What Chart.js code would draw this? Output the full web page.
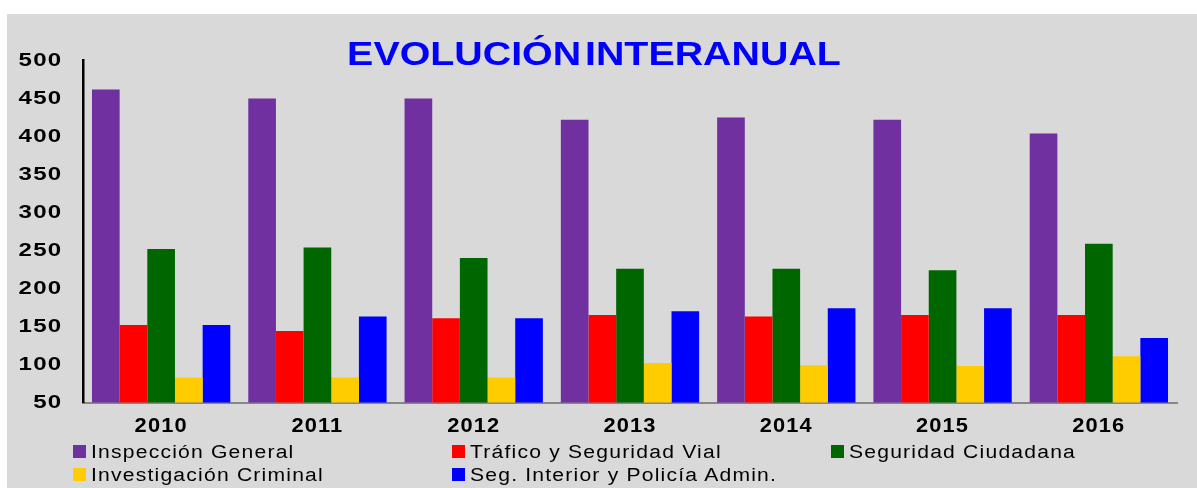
<!DOCTYPE html>
<html>
<head>
<meta charset="utf-8">
<script src="https://cdn.jsdelivr.net/npm/chart.js@4/dist/chart.umd.min.js"></script>
<style>
  html, body { margin: 0; padding: 0; background: #ffffff; }
  #wrap { position: relative; width: 1197px; height: 488px; overflow: hidden; font-family: 'Liberation Sans', Arial, sans-serif; }
  #bg { position: absolute; left: 7px; top: 14px; right: 0; bottom: 0; background: #d9d9d9; }
  #chart { position: absolute; left: 0; top: 0; }
  #title { position: absolute; left: 0; top: 37px; width: 1188px; text-align: center; font-weight: bold; font-size: 33.5px; line-height: 33.5px; color: #0000ff; word-spacing: -6px; white-space: nowrap; transform: scaleX(1.175); transform-origin: 594px 0; }
  .lg { position: absolute; font-size: 17.6px; line-height: 17.6px; color: #000; white-space: nowrap; }
  .lg .box { position: absolute; width: 13px; height: 13px; left: 0; top: 1px; }
  .lg .txt { position: absolute; left: 18px; top: 0; letter-spacing: 1px; transform: scaleX(1.2); transform-origin: 0 0; }
</style>
</head>
<body>
<div id="wrap">
  <div id="bg"></div>
  <canvas id="chart" width="1197" height="488"></canvas>
  <div id="title">EVOLUCIÓN INTERANUAL</div>
  <div id="legend"></div>
</div>
<script>
// ---- data ----
const years = ['2010', '2011', '2012', '2013', '2014', '2015', '2016'];
const inspeccionGeneral = [462, 450, 450, 422, 425, 422, 404];
const traficoSeguridadVial = [152, 144, 161, 165, 163, 165, 165];
const seguridadCiudadana = [252, 254, 240, 226, 226, 224, 259];
const investigacionCriminal = [83, 83, 83, 102, 99, 98, 111];
const segInteriorPolicia = [152, 163, 161, 170, 174, 174, 135];
const seriesNames = ['Inspección General', 'Tráfico y Seguridad Vial', 'Seguridad Ciudadana', 'Investigación Criminal', 'Seg. Interior y Policía Admin.'];
const seriesColors = ['#7030a0', '#ff0000', '#006600', '#ffcc00', '#0000ff'];
const yMin = 50, yMax = 500, yStep = 50;

const seriesValues = [inspeccionGeneral, traficoSeguridadVial, seguridadCiudadana, investigacionCriminal, segInteriorPolicia];

// widen axis label glyphs (reference text is horizontally stretched)
const stretchPlugin = {
  id: 'stretch',
  beforeDraw(chart) {
    const wrap = (scale, sx, ls) => {
      if (!scale || scale._stWrapped) return;
      const orig = scale.drawLabels.bind(scale);
      scale.drawLabels = function (area) {
        const ctx = this.ctx;
        ctx.save();
        ctx.letterSpacing = ls;
        const proto = Object.getPrototypeOf(ctx).fillText;
        ctx.fillText = function (t, x, y, mw) {
          this.save();
          this.scale(sx, 1);
          proto.call(this, t, x / sx, y);
          this.restore();
        };
        try { orig(area); } finally { delete ctx.fillText; ctx.restore(); }
      };
      scale._stWrapped = true;
    };
    wrap(chart.scales.y, 1.3, '1px');
    wrap(chart.scales.x, 1.12, '1px');
  }
};

const FONT = "'Liberation Sans', Arial, sans-serif";

new Chart(document.getElementById('chart'), {
  type: 'bar',
  data: {
    labels: years,
    datasets: seriesNames.map((name, i) => ({
      label: name,
      data: seriesValues[i],
      backgroundColor: seriesColors[i],
      borderWidth: 0,
      categoryPercentage: 0.885,
      barPercentage: 1.0
    }))
  },
  options: {
    responsive: false,
    animation: false,
    layout: { padding: { top: 60.5, right: 20, bottom: 0, left: 0 } },
    plugins: {
      legend: { display: false },
      title: { display: false },
      tooltip: { enabled: false }
    },
    scales: {
      x: {
        grid: { display: false, drawTicks: false },
        border: { display: true, color: '#878787', width: 2 },
        ticks: {
          color: '#000',
          font: { family: FONT, size: 19.5, weight: 'bold' },
          padding: 12,
          maxRotation: 0,
          autoSkip: false
        },
        afterFit(scale) { scale.height = 85.5; }
      },
      y: {
        min: yMin,
        max: yMax,
        grid: { display: false, drawTicks: false },
        border: { display: true, color: '#000', width: 2.5 },
        ticks: {
          stepSize: yStep,
          color: '#000',
          font: { family: FONT, size: 18.5, weight: 'bold' },
          padding: 20.5
        },
        afterFit(scale) { scale.width = 83; }
      }
    }
  },
  plugins: [stretchPlugin]
});

// ---- HTML legend built from series arrays ----
const legendCols = [73, 452, 831];
const legendRows = [443.5, 466.8];
const legend = document.getElementById('legend');
seriesNames.forEach((name, i) => {
  const col = i % 3, row = Math.floor(i / 3);
  const item = document.createElement('div');
  item.className = 'lg';
  item.style.left = legendCols[col] + 'px';
  item.style.top = legendRows[row] + 'px';
  const box = document.createElement('span');
  box.className = 'box';
  box.style.background = seriesColors[i];
  const txt = document.createElement('span');
  txt.className = 'txt';
  txt.textContent = name;
  item.appendChild(box);
  item.appendChild(txt);
  legend.appendChild(item);
});
</script>
</body>
</html>
